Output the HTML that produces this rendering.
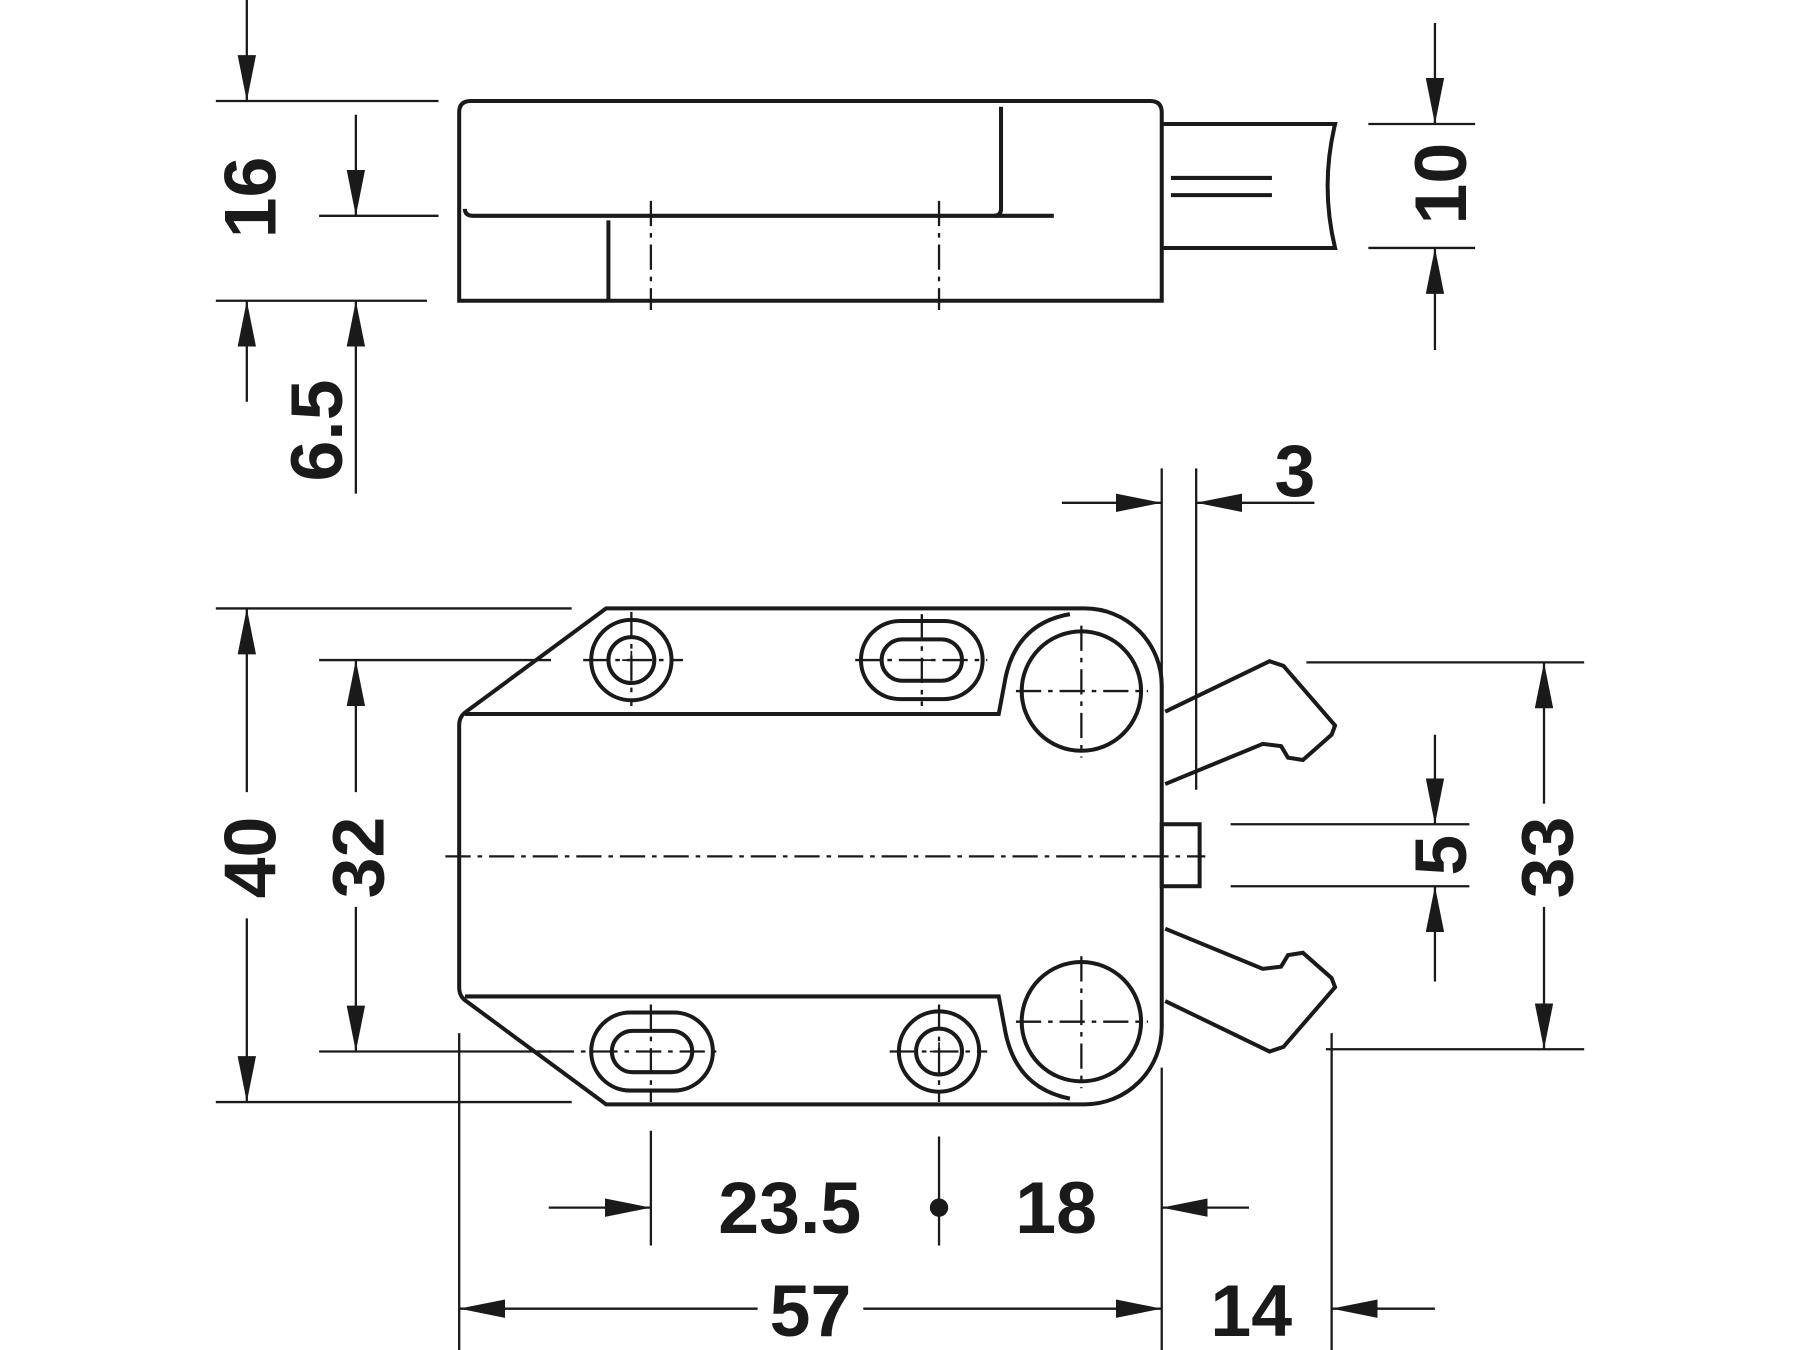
<!DOCTYPE html>
<html><head><meta charset="utf-8"><style>
html,body{margin:0;padding:0;background:#fff;}
svg{display:block;}
text{font-family:"Liberation Sans",sans-serif;font-weight:bold;font-size:64px;fill:#1a1a1a;}
</style></head><body>
<svg width="1800" height="1350" viewBox="0 0 1568 1176" preserveAspectRatio="none" xmlns="http://www.w3.org/2000/svg">
<defs>
<marker id="a" viewBox="0 0 40 16" refX="40" refY="8" markerWidth="40" markerHeight="16" markerUnits="userSpaceOnUse" orient="auto">
<path d="M0,0 L40,8 L0,16 Z" fill="#1a1a1a"/></marker>
</defs>
<g fill="none" stroke="#1a1a1a" stroke-width="2">
<!-- top view -->
<g stroke-width="3.5">
<path d="M400,262 L400,98 Q400,88 410,88 L1002,88 Q1012,88 1012,98 L1012,262 Z"/>
<path d="M918,188 L412,188 Q405,188 405,182"/>
<path d="M872,93 L872,182 Q872,188 866,188"/>
<path d="M530,192 L530,262"/>
<path d="M1012,108 L1163,108 Q1150,162 1163,216 L1012,216"/>
<path d="M1020,155 L1108,155 M1020,170 L1108,170"/>
</g>
<path d="M567,175 L567,270 M818,175 L818,270" stroke-dasharray="22,6,4,6"/>
<!-- top view dims -->
<path d="M188,88 L382,88 M278,188 L382,188 M188,262 L372,262"/>
<path d="M215,0 L215,88" marker-end="url(#a)"/>
<path d="M215,350 L215,262" marker-end="url(#a)"/>
<path d="M310,100 L310,188" marker-end="url(#a)"/>
<path d="M310,430 L310,262" marker-end="url(#a)"/>
<path d="M1192,108 L1285,108 M1192,216 L1285,216"/>
<path d="M1250,20 L1250,108" marker-end="url(#a)"/>
<path d="M1250,305 L1250,216" marker-end="url(#a)"/>

<!-- bottom view body -->
<g stroke-width="3.5">
<path d="M528,530 L945,530 A67,67 0 0 1 1012,597 L1012,895 A67,67 0 0 1 945,962 L528,962 L406,872 Q400,868 400,860 L400,632 Q400,624 406,620 Z"/>
<path d="M405,622 L870,622 L876,590 Q886,543 932,535"/>
<path d="M405,868 L870,868 L876,900 Q886,948 932,957"/>
<circle cx="942" cy="602" r="52"/>
<circle cx="942" cy="890" r="52"/>
<circle cx="550" cy="575" r="35"/><circle cx="550" cy="575" r="20"/>
<circle cx="818" cy="916" r="35"/><circle cx="818" cy="916" r="20"/>
<rect x="750" y="541" width="106" height="68" rx="34"/><rect x="768" y="557" width="70" height="36" rx="18"/>
<rect x="515" y="882" width="106" height="68" rx="34"/><rect x="533" y="898" width="70" height="36" rx="18"/>
<rect x="1012" y="718" width="33" height="54"/>
<path d="M1015,620 L1106,576 L1118,580 L1163,632 L1160,640 L1135,662 L1122,660 L1116,650 L1100,648 L1015,683"/>
<path d="M1015,872 L1106,916 L1118,912 L1163,860 L1160,852 L1135,830 L1122,832 L1116,842 L1100,844 L1015,809"/>
</g>
<g stroke-width="1.5">
<path d="M542,575 L558,575 M550,567 L550,583 M810,916 L826,916 M818,908 L818,924 M795,575 L811,575 M560,916 L576,916"/>
</g>
<g stroke-dasharray="22,6,4,6">
<path d="M388,746 L1050,746"/>
<path d="M885,602 L1000,602 M942,545 L942,660 M885,890 L1000,890 M942,833 L942,948"/>
<path d="M508,575 L595,575 M550,533 L550,615 M745,575 L860,575 M803,535 L803,615"/>
<path d="M478,916 L625,916 M567,875 L567,960 M775,916 L860,916 M818,875 L818,960"/>
</g>
<!-- bottom view dims -->
<path d="M1012,408 L1012,590 M1042,408 L1042,688"/>
<path d="M925,438 L1012,438" marker-end="url(#a)"/>
<path d="M1145,438 L1042,438" marker-end="url(#a)"/>
<path d="M1138,577 L1380,577 M1155,914 L1380,914"/>
<path d="M1345,700 L1345,577" marker-end="url(#a)"/>
<path d="M1345,790 L1345,914" marker-end="url(#a)"/>
<path d="M1072,718 L1280,718 M1072,772 L1280,772"/>
<path d="M1250,640 L1250,718" marker-end="url(#a)"/>
<path d="M1250,855 L1250,772" marker-end="url(#a)"/>
<path d="M188,530 L498,530 M188,960 L498,960 M278,575 L480,575 M278,916 L480,916"/>
<path d="M215,690 L215,530" marker-end="url(#a)"/>
<path d="M215,800 L215,960" marker-end="url(#a)"/>
<path d="M310,690 L310,575" marker-end="url(#a)"/>
<path d="M310,790 L310,916" marker-end="url(#a)"/>
<path d="M400,900 L400,1176 M567,985 L567,1085 M818,990 L818,1085 M1012,930 L1012,1176 M1160,900 L1160,1176"/>
<path d="M478,1052 L567,1052" marker-end="url(#a)"/>
<path d="M1088,1052 L1012,1052" marker-end="url(#a)"/>
<path d="M660,1140 L400,1140" marker-end="url(#a)"/>
<path d="M752,1140 L1012,1140" marker-end="url(#a)"/>
<path d="M1250,1140 L1160,1140" marker-end="url(#a)"/>
</g>
<circle cx="818" cy="1052" r="8" fill="#1a1a1a"/>
<!-- labels -->
<text x="688" y="1074" text-anchor="middle">23.5</text>
<text x="920" y="1074" text-anchor="middle">18</text>
<text x="706" y="1164" text-anchor="middle">57</text>
<text x="1090" y="1164" text-anchor="middle">14</text>
<text x="1128" y="432" text-anchor="middle">3</text>
<text transform="translate(240,172) rotate(-90)" text-anchor="middle">16</text>
<text transform="translate(298,375) rotate(-90)" text-anchor="middle">6.5</text>
<text transform="translate(1277,160) rotate(-90)" text-anchor="middle">10</text>
<text transform="translate(240,747) rotate(-90)" text-anchor="middle">40</text>
<text transform="translate(334,747) rotate(-90)" text-anchor="middle">32</text>
<text transform="translate(1277,745) rotate(-90)" text-anchor="middle">5</text>
<text transform="translate(1370,747) rotate(-90)" text-anchor="middle">33</text>
</svg>
</body></html>
